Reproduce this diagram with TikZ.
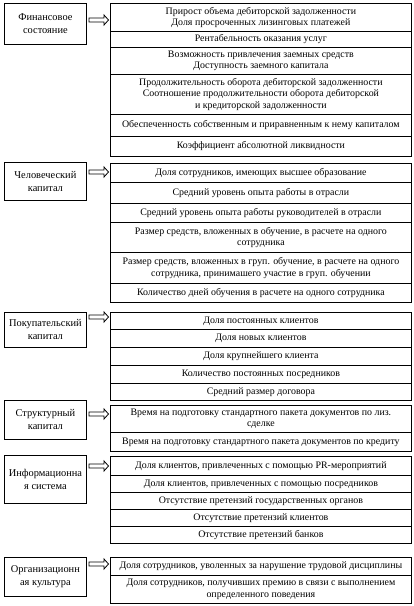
\documentclass[tikz,border=0pt]{standalone}
\usepackage{fontspec}
\setmainfont{Liberation Serif}
\begin{document}
\begin{tikzpicture}[x=1pt,y=-1pt,
  cell/.style={draw, line width=0.8pt, minimum width=301pt, inner sep=0pt, align=center,
    font=\fontsize{9.9}{11.5}\selectfont, anchor=north west},
  leftbox/.style={draw, line width=0.8pt, minimum width=82pt, inner sep=0pt, align=center,
    font=\fontsize{10.4}{13}\selectfont, anchor=north west},
  blockarr/.style={draw, line width=0.8pt, fill=white}]
\useasboundingbox (0,0) rectangle (414,606);
\newcommand\hollowarrow[1]{\draw[blockarr] (89,#1-2) -- (104,#1-2) -- (104,#1-5) -- (108.5,#1) -- (104,#1+5) -- (104,#1+2) -- (89,#1+2) -- cycle;}
% Finance
\node[leftbox, minimum height=41pt] (fin) at (4,3) {Финансовое\\состояние};
\node[cell, minimum height=28pt] (f1) at (110,3) {Прирост объема дебиторской задолженности\\Доля просроченных лизинговых платежей};
\node[cell, minimum height=16pt] (f2) at (110,31) {Рентабельность оказания услуг};
\node[cell, minimum height=27pt] (f3) at (110,47) {Возможность привлечения заемных средств\\Доступность заемного капитала};
\node[cell, minimum height=40pt] (f4) at (110,74) {Продолжительность оборота дебиторской задолженности\\Соотношение продолжительности оборота дебиторской\\и кредиторской задолженности};
\node[cell, minimum height=22pt] (f5) at (110,114) {Обеспеченность собственным и приравненным к нему капиталом};
\node[cell, minimum height=20pt] (f6) at (110,136) {Коэффициент абсолютной ликвидности};
\hollowarrow{20}
% Human
\node[leftbox, minimum height=38pt] (hum) at (4,162) {Человеческий\\капитал};
\node[cell, minimum height=19pt] (h1) at (110,163) {Доля сотрудников, имеющих высшее образование};
\node[cell, minimum height=21pt] (h2) at (110,182) {Средний уровень опыта работы в отрасли};
\node[cell, minimum height=19pt] (h3) at (110,203) {Средний уровень опыта работы руководителей в отрасли};
\node[cell, minimum height=30pt] (h4) at (110,222) {Размер средств, вложенных в обучение, в расчете на одного\\сотрудника};
\node[cell, minimum height=31pt] (h5) at (110,252) {Размер средств, вложенных в груп. обучение, в расчете на одного\\сотрудника, принимашего участие в груп. обучении};
\node[cell, minimum height=19pt] (h6) at (110,283) {Количество дней обучения в расчете на одного сотрудника};
\hollowarrow{172}
% Buyer
\node[leftbox, minimum height=35pt] (buy) at (4,312) {Покупательский\\капитал};
\node[cell, minimum height=17pt] (p1) at (110,312) {Доля постоянных клиентов};
\node[cell, minimum height=18pt] (p2) at (110,329) {Доля новых клиентов};
\node[cell, minimum height=18pt] (p3) at (110,347) {Доля крупнейшего клиента};
\node[cell, minimum height=18pt] (p4) at (110,365) {Количество постоянных посредников};
\node[cell, minimum height=17pt] (p5) at (110,383) {Средний размер договора};
\hollowarrow{317}
% Structural
\node[leftbox, minimum height=39pt] (str) at (4,400) {Структурный\\капитал};
\node[cell, minimum height=27pt] (s1) at (110,405) {Время на подготовку стандартного пакета документов по лиз.\\сделке};
\node[cell, minimum height=19pt] (s2) at (110,432) {Время на подготовку стандартного пакета документов по кредиту};
\hollowarrow{414}
% Information
\node[leftbox, minimum height=48pt] (inf) at (4,455) {Информационна\\я система};
\node[cell, minimum height=19pt] (i1) at (110,456) {Доля клиентов, привлеченных с помощью PR-мероприятий};
\node[cell, minimum height=17pt] (i2) at (110,475) {Доля клиентов, привлеченных с помощью посредников};
\node[cell, minimum height=17pt] (i3) at (110,492) {Отсутствие претензий государственных органов};
\node[cell, minimum height=17pt] (i4) at (110,509) {Отсутствие претензий клиентов};
\node[cell, minimum height=17pt] (i5) at (110,526) {Отсутствие претензий банков};
\hollowarrow{466}
% Organisation
\node[leftbox, minimum height=39pt] (org) at (4,557) {Организационн\\ая культура};
\node[cell, minimum height=18pt] (o1) at (110,557) {Доля сотрудников, уволенных за нарушение трудовой дисциплины};
\node[cell, minimum height=28pt] (o2) at (110,575) {Доля сотрудников, получивших премию в связи с выполнением\\определенного поведения};
\hollowarrow{564}
\end{tikzpicture}
\end{document}
